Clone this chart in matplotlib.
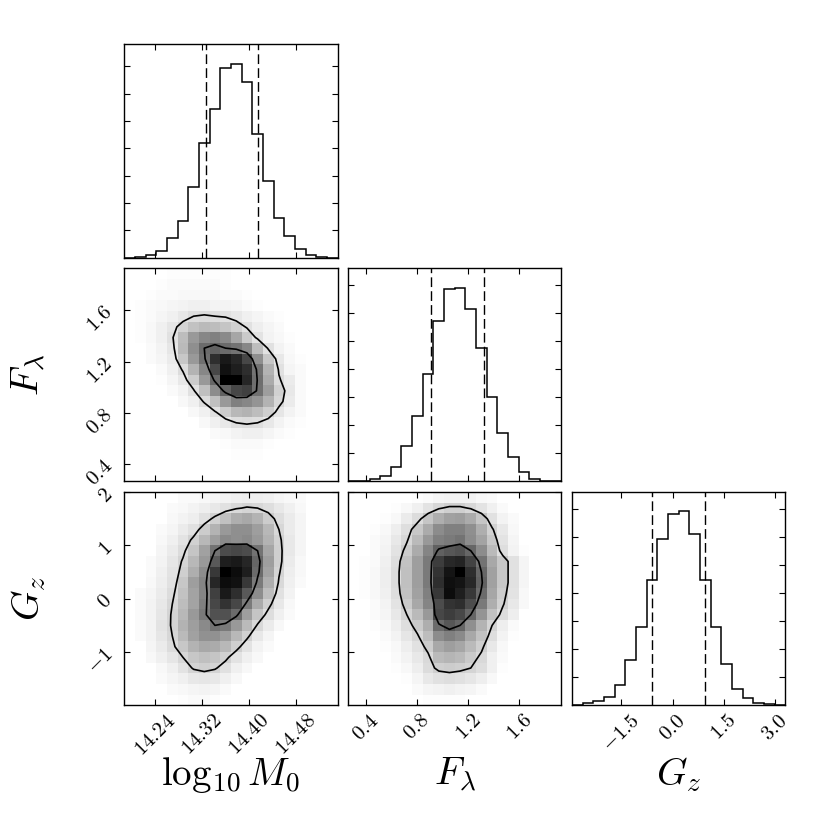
import numpy as np
import matplotlib
matplotlib.use('Agg')
import matplotlib.pyplot as plt

plt.rcParams.update({
    'mathtext.fontset': 'cm',
    'font.family': 'serif',
    'axes.linewidth': 1.0,
    'xtick.direction': 'in',
    'ytick.direction': 'in',
    'xtick.top': True,
    'ytick.right': True,
    'xtick.major.size': 4,
    'ytick.major.size': 4,
    'xtick.major.width': 0.8,
    'ytick.major.width': 0.8,
})

# parameter labels
labels = [r'$\log_{10}M_0$', r'$F_\lambda$', r'$G_z$']

# 1-d marginal histograms (20 bins each, arbitrary count units)
hist_m0 = [0, 3, 7, 21, 59, 111, 211, 343, 445, 568, 582, 528, 372, 229, 120, 64, 25, 8, 2, 0]
hist_f = [0, 1, 6, 17, 43, 105, 195, 323, 481, 576, 581, 518, 400, 254, 145, 73, 28, 8, 2, 0]
hist_g = [0, 6, 13, 26, 60, 135, 236, 375, 498, 573, 582, 515, 375, 236, 124, 50, 21, 8, 4, 0]
hist_tick_step = [82, 84, 84]

# 16% / 84% quantiles
q_m0 = [14.326, 14.416]
q_f = [0.909, 1.324]
q_g = [-0.614, 0.956]

# ranges
range_m0 = (14.187, 14.551)
range_f = (0.262, 1.930)
range_g_hist = (-2.94, 3.30)
range_g = (-2.0, 2.0)

# ticks
ticks_m0 = [14.24, 14.32, 14.40, 14.48]
ticklabels_m0 = ['14.24', '14.32', '14.40', '14.48']
ticks_f = [0.4, 0.8, 1.2, 1.6]
ticklabels_f = ['0.4', '0.8', '1.2', '1.6']
ticks_g_hist = [-1.5, 0.0, 1.5, 3.0]
ticklabels_g_hist = ['-1.5', '0.0', '1.5', '3.0']
ticks_g = [-1, 0, 1, 2]
ticklabels_g = ['-1', '0', '1', '2']

# 2-d histograms, rows listed from top (high y) to bottom, relative counts
dens_m0_f = [
    [0, 0, 0, 0, 1, 1, 1, 1, 1, 1, 0, 0, 0, 0, 0, 0, 0, 0, 0, 0],
    [0, 0, 0, 1, 2, 2, 2, 2, 2, 1, 0, 0, 0, 0, 0, 0, 0, 0, 0, 0],
    [0, 0, 1, 2, 2, 3, 3, 3, 3, 2, 2, 1, 0, 0, 0, 0, 0, 0, 0, 0],
    [0, 1, 2, 3, 4, 5, 6, 6, 5, 5, 4, 2, 1, 0, 0, 0, 0, 0, 0, 0],
    [0, 1, 2, 4, 6, 9, 13, 14, 13, 12, 9, 6, 4, 2, 1, 0, 0, 0, 0, 0],
    [0, 1, 3, 6, 10, 17, 24, 27, 26, 23, 18, 12, 7, 4, 2, 0, 0, 0, 0, 0],
    [0, 1, 3, 6, 12, 26, 40, 47, 50, 46, 35, 21, 11, 5, 3, 1, 0, 0, 0, 0],
    [0, 0, 2, 5, 10, 27, 44, 58, 62, 58, 55, 47, 26, 12, 5, 2, 0, 0, 0, 0],
    [0, 0, 2, 4, 8, 22, 40, 56, 82, 90, 85, 72, 44, 22, 9, 3, 1, 0, 0, 0],
    [0, 0, 0, 2, 6, 14, 30, 47, 72, 93, 88, 82, 55, 30, 12, 4, 2, 0, 0, 0],
    [0, 0, 0, 1, 4, 9, 20, 40, 60, 100, 100, 85, 57, 33, 14, 8, 2, 0, 0, 0],
    [0, 0, 0, 0, 2, 5, 12, 25, 45, 62, 72, 75, 56, 38, 18, 9, 2, 0, 0, 0],
    [0, 0, 0, 0, 0, 3, 6, 14, 25, 40, 50, 47, 42, 30, 16, 8, 2, 0, 0, 0],
    [0, 0, 0, 0, 0, 0, 3, 6, 12, 20, 28, 30, 26, 19, 10, 5, 2, 0, 0, 0],
    [0, 0, 0, 0, 0, 0, 0, 3, 6, 9, 13, 14, 13, 9, 5, 2, 1, 0, 0, 0],
    [0, 0, 0, 0, 0, 0, 0, 0, 2, 3, 5, 6, 6, 4, 2, 1, 0, 0, 0, 0],
    [0, 0, 0, 0, 0, 0, 0, 0, 0, 1, 2, 2, 2, 1, 0, 0, 0, 0, 0, 0],
    [0, 0, 0, 0, 0, 0, 0, 0, 0, 0, 1, 1, 1, 0, 0, 0, 0, 0, 0, 0],
    [0, 0, 0, 0, 0, 0, 0, 0, 0, 0, 0, 0, 0, 0, 0, 0, 0, 0, 0, 0],
    [0, 0, 0, 0, 0, 0, 0, 0, 0, 0, 0, 0, 0, 0, 0, 0, 0, 0, 0, 0],
]

dens_m0_g = [
    [0, 0, 0, 0, 0, 2, 2, 3, 4, 5, 6, 7, 7, 6, 4, 3, 2, 0, 0, 0],
    [0, 0, 0, 0, 2, 3, 5, 7, 9, 12, 15, 17, 16, 13, 9, 6, 3, 0, 0, 0],
    [0, 0, 0, 0, 3, 5, 7, 12, 18, 25, 32, 34, 30, 20, 13, 8, 4, 0, 0, 0],
    [0, 0, 0, 2, 4, 8, 12, 20, 30, 40, 44, 44, 38, 28, 16, 8, 4, 0, 0, 0],
    [0, 0, 0, 3, 6, 11, 18, 28, 38, 46, 44, 46, 40, 30, 18, 9, 4, 0, 0, 0],
    [0, 0, 0, 4, 8, 14, 23, 37, 55, 70, 72, 70, 55, 35, 19, 9, 4, 0, 0, 0],
    [0, 0, 2, 5, 10, 17, 28, 40, 65, 88, 90, 85, 60, 38, 19, 8, 3, 0, 0, 0],
    [0, 0, 2, 6, 11, 19, 32, 45, 78, 100, 95, 88, 58, 36, 17, 7, 3, 0, 0, 0],
    [0, 0, 3, 7, 12, 22, 38, 48, 85, 95, 93, 78, 52, 32, 15, 6, 2, 0, 0, 0],
    [0, 2, 4, 8, 14, 24, 36, 48, 75, 90, 82, 65, 45, 26, 12, 5, 0, 0, 0, 0],
    [0, 2, 5, 9, 16, 26, 36, 50, 72, 80, 72, 52, 33, 19, 9, 3, 0, 0, 0, 0],
    [0, 2, 5, 10, 17, 28, 40, 52, 68, 68, 58, 38, 23, 13, 6, 2, 0, 0, 0, 0],
    [0, 2, 5, 11, 17, 30, 38, 46, 55, 52, 40, 27, 15, 8, 3, 0, 0, 0, 0, 0],
    [0, 2, 5, 10, 16, 27, 37, 43, 43, 38, 28, 18, 9, 4, 0, 0, 0, 0, 0, 0],
    [0, 0, 4, 8, 14, 22, 30, 34, 33, 28, 19, 11, 5, 2, 0, 0, 0, 0, 0, 0],
    [0, 0, 3, 6, 10, 16, 22, 25, 23, 18, 11, 6, 3, 0, 0, 0, 0, 0, 0, 0],
    [0, 0, 0, 3, 6, 11, 17, 19, 17, 12, 6, 3, 0, 0, 0, 0, 0, 0, 0, 0],
    [0, 0, 0, 2, 4, 6, 9, 10, 9, 6, 3, 0, 0, 0, 0, 0, 0, 0, 0, 0],
    [0, 0, 0, 0, 2, 3, 4, 5, 4, 2, 0, 0, 0, 0, 0, 0, 0, 0, 0, 0],
    [0, 0, 0, 0, 0, 1, 2, 2, 1, 0, 0, 0, 0, 0, 0, 0, 0, 0, 0, 0],
]

dens_f_g = [
    [0, 0, 0, 0, 0, 0, 1, 2, 4, 5, 5, 5, 3, 2, 0, 0, 0, 0, 0, 0],
    [0, 0, 0, 0, 1, 3, 6, 11, 16, 19, 19, 16, 11, 6, 2, 0, 0, 0, 0, 0],
    [0, 0, 0, 1, 3, 8, 14, 23, 32, 37, 38, 33, 23, 12, 5, 2, 0, 0, 0, 0],
    [0, 0, 1, 3, 7, 13, 22, 33, 45, 50, 50, 44, 32, 18, 9, 3, 0, 0, 0, 0],
    [0, 0, 2, 4, 9, 16, 27, 40, 50, 52, 55, 45, 36, 22, 11, 4, 0, 0, 0, 0],
    [0, 0, 2, 5, 11, 20, 33, 48, 62, 66, 68, 60, 45, 27, 13, 5, 1, 0, 0, 0],
    [0, 1, 2, 6, 13, 24, 38, 52, 76, 84, 86, 74, 55, 34, 22, 12, 4, 0, 0, 0],
    [0, 1, 3, 7, 14, 25, 38, 52, 80, 92, 100, 82, 60, 37, 22, 12, 4, 0, 0, 0],
    [0, 1, 3, 7, 14, 25, 38, 52, 82, 94, 92, 84, 62, 37, 22, 12, 4, 0, 0, 0],
    [0, 1, 3, 6, 13, 24, 37, 50, 78, 95, 88, 78, 58, 35, 20, 11, 3, 0, 0, 0],
    [0, 0, 2, 5, 11, 21, 34, 48, 70, 80, 82, 70, 52, 32, 18, 9, 3, 0, 0, 0],
    [0, 0, 2, 4, 9, 17, 27, 40, 72, 76, 72, 60, 42, 24, 14, 7, 0, 0, 0, 0],
    [0, 0, 1, 3, 7, 13, 21, 32, 58, 66, 60, 44, 30, 17, 7, 2, 0, 0, 0, 0],
    [0, 0, 0, 2, 5, 10, 16, 26, 45, 50, 46, 34, 24, 13, 5, 1, 0, 0, 0, 0],
    [0, 0, 0, 1, 3, 7, 12, 20, 34, 38, 35, 27, 19, 9, 3, 0, 0, 0, 0, 0],
    [0, 0, 0, 0, 2, 5, 9, 15, 27, 29, 27, 21, 15, 6, 2, 0, 0, 0, 0, 0],
    [0, 0, 0, 0, 1, 3, 7, 14, 19, 20, 19, 17, 13, 6, 1, 0, 0, 0, 0, 0],
    [0, 0, 0, 0, 0, 1, 4, 9, 12, 13, 12, 10, 7, 3, 0, 0, 0, 0, 0, 0],
    [0, 0, 0, 0, 0, 0, 2, 4, 5, 6, 5, 4, 2, 0, 0, 0, 0, 0, 0, 0],
    [0, 0, 0, 0, 0, 0, 0, 1, 1, 1, 1, 0, 0, 0, 0, 0, 0, 0, 0, 0],
]

tick_fs = 15
label_fs = 28


def mt(strings):
    return ['$' + s + '$' for s in strings]


def draw_hist(ax, counts, rng, qs, step):
    edges = np.linspace(rng[0], rng[1], len(counts) + 1)
    ax.stairs(counts, edges, color='k', lw=1.1)
    for q in qs:
        ax.axvline(q, color='k', ls=(0, (7, 3)), lw=1.0)
    top = 1.1 * max(counts)
    ax.set_xlim(rng)
    ax.set_ylim(0, top)
    ax.set_yticks(np.arange(step, top, step))
    ax.set_yticklabels([])


def draw_2d(ax, grid, xr, yr):
    H = np.array(grid, dtype=float)[::-1]
    ny, nx = H.shape
    xe = np.linspace(xr[0], xr[1], nx + 1)
    ye = np.linspace(yr[0], yr[1], ny + 1)
    ax.pcolormesh(xe, ye, H.max() - H, cmap='gray', shading='flat')
    # contour levels enclosing 39% and 86% of the mass
    flat = np.sort(H.ravel())[::-1]
    cum = np.cumsum(flat) / flat.sum()
    lev = []
    for p in [1 - np.exp(-0.5), 1 - np.exp(-2.0)]:
        lev.append(flat[cum <= p][-1])
    xc = 0.5 * (xe[1:] + xe[:-1])
    yc = 0.5 * (ye[1:] + ye[:-1])
    ax.contour(xc, yc, H, sorted(set(lev)), colors='k', linewidths=1.2)
    ax.set_xlim(xr)
    ax.set_ylim(yr)


fig, axes = plt.subplots(3, 3, figsize=(8.3, 8.3), dpi=100)
fig.subplots_adjust(left=0.1498, right=0.9461, bottom=0.1502, top=0.9466,
                    wspace=0.05, hspace=0.05)

for ax in [axes[0, 1], axes[0, 2], axes[1, 2]]:
    ax.set_visible(False)

draw_hist(axes[0, 0], hist_m0, range_m0, q_m0, hist_tick_step[0])
draw_hist(axes[1, 1], hist_f, range_f, q_f, hist_tick_step[1])
draw_hist(axes[2, 2], hist_g, range_g_hist, q_g, hist_tick_step[2])

draw_2d(axes[1, 0], dens_m0_f, range_m0, range_f)
draw_2d(axes[2, 0], dens_m0_g, range_m0, range_g)
draw_2d(axes[2, 1], dens_f_g, range_f, range_g)

# x ticks
for ax in [axes[0, 0], axes[1, 0], axes[2, 0]]:
    ax.set_xticks(ticks_m0)
    ax.set_xticklabels([])
for ax in [axes[1, 1], axes[2, 1]]:
    ax.set_xticks(ticks_f)
    ax.set_xticklabels([])
axes[2, 2].set_xticks(ticks_g_hist)

axes[2, 0].set_xticklabels(mt(ticklabels_m0), rotation=45, ha='center', fontsize=tick_fs)
axes[2, 1].set_xticklabels(mt(ticklabels_f), rotation=45, ha='center', fontsize=tick_fs)
axes[2, 2].set_xticklabels(mt(ticklabels_g_hist), rotation=45, ha='center', fontsize=tick_fs)

# y ticks
axes[1, 0].set_yticks(ticks_f)
axes[1, 0].set_yticklabels(mt(ticklabels_f), rotation=45, fontsize=tick_fs)
axes[2, 0].set_yticks(ticks_g)
axes[2, 0].set_yticklabels(mt(ticklabels_g), rotation=45, fontsize=tick_fs)
axes[2, 1].set_yticks(ticks_g)
axes[2, 1].set_yticklabels([])

for ax in axes.ravel():
    ax.tick_params(axis='x', pad=4)
    ax.tick_params(axis='y', pad=6)

for i in range(3):
    axes[2, i].set_xlabel(labels[i], fontsize=label_fs)
    axes[2, i].xaxis.set_label_coords(0.5, -0.235)
axes[1, 0].set_ylabel(labels[1], fontsize=label_fs)
axes[2, 0].set_ylabel(labels[2], fontsize=label_fs)
for ax in [axes[1, 0], axes[2, 0]]:
    ax.yaxis.set_label_coords(-0.36, 0.5)

fig.savefig('out.png', dpi=100)
